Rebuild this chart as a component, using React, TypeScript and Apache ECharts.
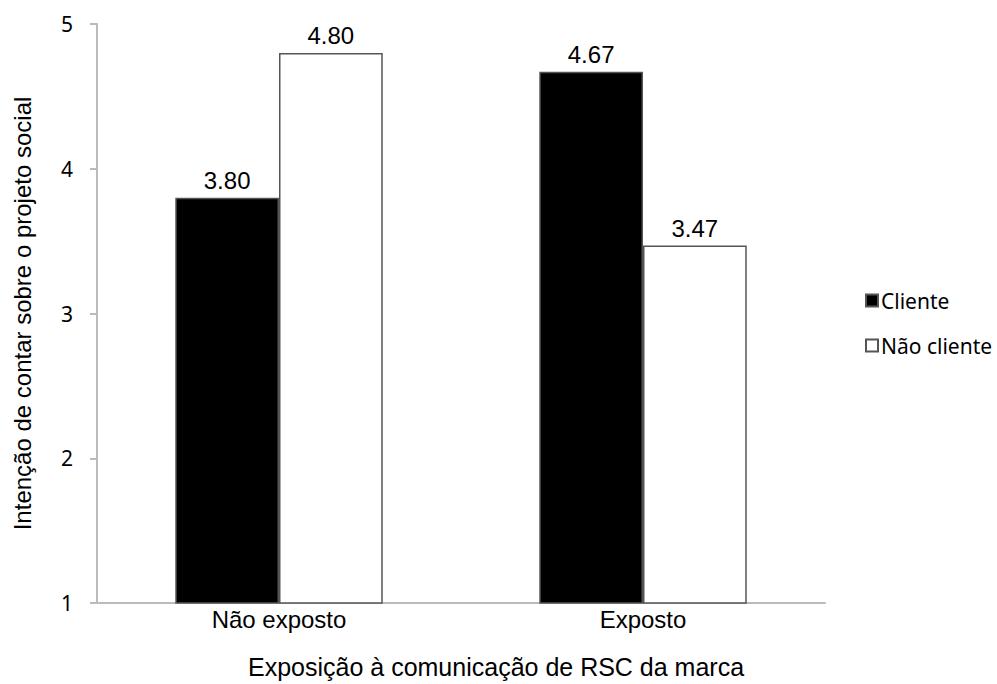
import React, { useEffect, useRef } from "react";
import * as echarts from "echarts";

const categories = ["Não exposto", "Exposto"];
const clienteValues = [3.8, 4.67];
const naoClienteValues = [4.8, 3.47];
const seriesNames = ["Cliente", "Não cliente"];
const yAxisTitle = "Intenção de contar sobre o projeto social";
const xAxisTitle = "Exposição à comunicação de RSC da marca";

export default function App() {
  const ref = useRef<HTMLDivElement>(null);
  useEffect(() => {
    if (!ref.current) return;
    const chart = echarts.init(ref.current, undefined, { renderer: "svg" });
    const labelStyle = {
      show: true,
      position: "top" as const,
      distance: 5,
      fontSize: 24,
      color: "#000",
      fontFamily: "Liberation Sans",
      formatter: (p: any) => Number(p.value).toFixed(2),
    };
    chart.setOption({
      animation: false,
      backgroundColor: "#fff",
      grid: { left: 97, right: 172, top: 24, bottom: 81 },
      title: {
        text: xAxisTitle,
        left: 243,
        top: 649,
        textStyle: { fontSize: 25, fontWeight: "normal", color: "#000", fontFamily: "Liberation Sans" },
      },
      legend: {
        orient: "vertical",
        left: 860,
        top: 285,
        itemWidth: 12,
        itemHeight: 12,
        itemGap: 24,
        icon: "rect",
        textStyle: { fontSize: 21, color: "#000", fontFamily: "Noto Sans", padding: [0, 0, 0, -2] },
        data: seriesNames,
      },
      xAxis: {
        type: "category",
        data: categories,
        axisLine: { show: true, lineStyle: { color: "#bbb", width: 2 } },
        axisTick: { show: false },
        axisLabel: { fontSize: 24, color: "#000", margin: 4, fontFamily: "Liberation Sans" },
      },
      yAxis: {
        type: "value",
        min: 1,
        max: 5,
        interval: 1,
        name: yAxisTitle,
        nameLocation: "middle",
        nameGap: 63,
        nameTextStyle: { fontSize: 24, color: "#000", fontFamily: "Liberation Sans" },
        axisLine: { show: true, lineStyle: { color: "#bbb", width: 2 } },
        axisTick: { show: true, length: 7, lineStyle: { color: "#bbb", width: 2 } },
        axisLabel: { fontSize: 21, color: "#000", margin: 24, fontFamily: "Noto Sans" },
        splitLine: { show: false },
      },
      series: [
        {
          name: seriesNames[0],
          type: "bar",
          data: clienteValues,
          barGap: "0%",
          barCategoryGap: "43%",
          itemStyle: { color: "#000", borderColor: "#555", borderWidth: 1.5 },
          label: labelStyle,
        },
        {
          name: seriesNames[1],
          type: "bar",
          data: naoClienteValues,
          itemStyle: { color: "#fff", borderColor: "#555", borderWidth: 1.5 },
          label: labelStyle,
        },
      ],
    });
    return () => chart.dispose();
  }, []);
  return <div ref={ref} style={{ width: 997, height: 684, position: "absolute", left: 0, top: 0 }} />;
}
